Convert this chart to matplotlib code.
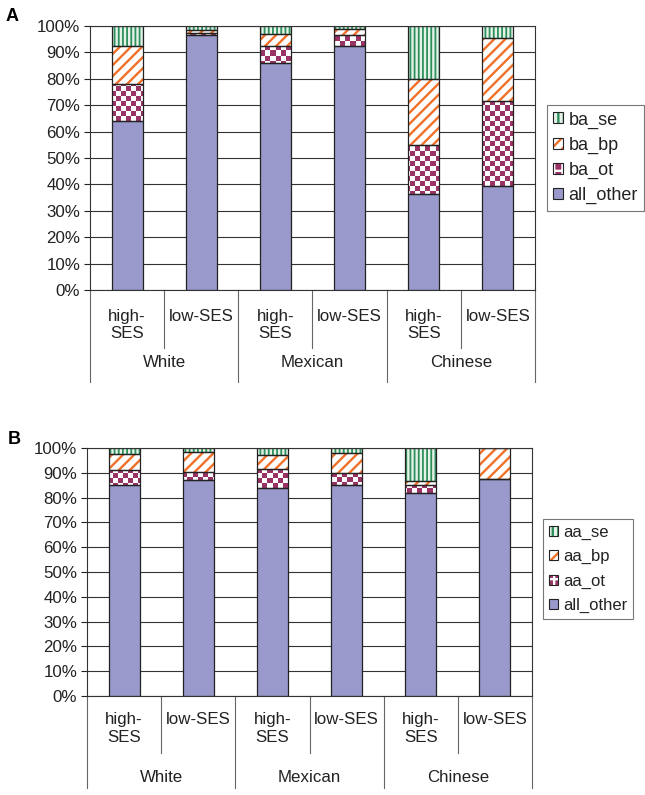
import numpy as np
import matplotlib
matplotlib.use('Agg')
import matplotlib.pyplot as plt
from matplotlib.colors import ListedColormap
from matplotlib.patches import Patch

plt.rcParams['font.family'] = 'Liberation Sans'
plt.rcParams['hatch.linewidth'] = 1.7

# ---------------------------------------------------------------------------
# Daten (Anteile in %)
groups = ['White', 'Mexican', 'Chinese']
ses = ['high-\nSES', 'low-SES', 'high-\nSES', 'low-SES', 'high-\nSES', 'low-SES']

a_other = [64, 96.5, 86, 92.5, 36.5, 39.5]
a_ot = [14, 1, 6.5, 4, 18.5, 32]
a_bp = [14.5, 1, 4.5, 2.5, 25, 24]
a_se = [7.5, 1.5, 3, 1, 20, 4.5]
a_labels = ['all_other', 'ba_ot', 'ba_bp', 'ba_se']

b_other = [85, 87, 84, 85, 82, 87.5]
b_ot = [6, 3.5, 7.5, 5, 3, 0]
b_bp = [6.5, 8, 5.5, 8, 1.5, 12.5]
b_se = [2.5, 1.5, 3, 2, 13.5, 0]
b_labels = ['all_other', 'aa_ot', 'aa_bp', 'aa_se']

yticks = np.arange(0, 101, 10)

# Farben
c_other = '#9999CC'
c_ot = '#993366'
c_bp = '#F07028'
c_se = '#2E8F5C'
c_se_bg = '#e4f2e8'
c_edge = '#222222'

W, H = 645, 795
fig = plt.figure(figsize=(W / 100, H / 100), dpi=100)


def panel(rect, series, labels, txt, leg_xy, leg_fs, leg_sp, lab_top, grp_y, short_y, long_y):
    ax = fig.add_axes(rect)
    x = np.arange(len(ses))
    bw = 0.42
    bottoms = np.concatenate([[np.zeros(len(x))], np.cumsum(series, axis=0)[:-1]])

    # Schachbrett-Muster fuer *_ot
    bb = ax.get_window_extent()
    nx = int(round(bb.width / 5.0))
    ny = int(round(bb.height / 5.0))
    checker = np.indices((ny, nx)).sum(0) % 2
    cmap = ListedColormap(['white', c_ot])

    handles = []
    for i, (vals, bot) in enumerate(zip(series, bottoms)):
        if i == 0:
            ax.bar(x, vals, bw, bottom=bot, color=c_other, lw=0, zorder=1)
            h = Patch(facecolor=c_other, lw=0)
        elif i == 1:
            bars = ax.bar(x, vals, bw, bottom=bot, color='white', lw=0, zorder=1)
            for b in bars:
                im = ax.imshow(checker, cmap=cmap, origin='lower', extent=(-0.5, 5.5, 0, 100),
                               interpolation='nearest', aspect='auto', zorder=1.5)
                im.set_clip_path(b)
            h = Patch(facecolor=c_ot, edgecolor='white', hatch='++', lw=0)
        elif i == 2:
            ax.bar(x, vals, bw, bottom=bot, color='white', edgecolor=c_bp, hatch='///', lw=0, zorder=1)
            h = Patch(facecolor='white', edgecolor=c_bp, hatch='///', lw=0)
        else:
            with plt.rc_context({'hatch.linewidth': 1.3}):
                ax.bar(x, vals, bw, bottom=bot, color=c_se_bg, edgecolor=c_se, hatch='||||', lw=0, zorder=1)
                h = Patch(facecolor=c_se_bg, edgecolor=c_se, hatch='|||', lw=0)
        # Umrandung
        ax.bar(x, vals, bw, bottom=bot, fill=False, edgecolor=c_edge, lw=0.9, zorder=2)
        handles.append((h, Patch(fill=False, edgecolor=c_edge, lw=0.8)))

    ax.set_xlim(-0.5, 5.5)
    ax.set_ylim(0, 100)
    ax.set_yticks(yticks)
    ax.set_yticklabels(['%d%%' % v for v in yticks], fontsize=12.2)
    ax.set_xticks([])
    ax.tick_params(axis='y', direction='out', length=4, width=0.8, pad=3, colors='#222222')
    ax.set_axisbelow(True)
    ax.yaxis.grid(True, color='#333333', lw=0.8)
    for s in ax.spines.values():
        s.set_color('#333333')
        s.set_linewidth(0.8)

    # Kategorie-Achse mit zwei Ebenen
    tr = ax.get_xaxis_transform()
    for i, lab in enumerate(ses):
        ax.text(x[i], lab_top, lab, transform=tr, ha='center', va='top', fontsize=12.2,
                linespacing=1.2, color='#222222')
    for g, name in enumerate(groups):
        ax.text(2 * g + 0.5, grp_y, name, transform=tr, ha='center', va='center', fontsize=12.2,
                color='#222222')
    for k in range(7):
        xs = k - 0.5
        y1 = long_y if k % 2 == 0 else short_y
        ax.plot([xs, xs], [0, y1], transform=tr, color='#666666', lw=0.8, clip_on=False)

    leg = ax.legend(handles[::-1], labels[::-1], loc='upper left', bbox_to_anchor=leg_xy,
                    bbox_transform=fig.transFigure, fontsize=leg_fs, frameon=True, fancybox=False,
                    framealpha=1, edgecolor='#777777', handlelength=0.55, handleheight=0.55,
                    handletextpad=0.3, labelspacing=leg_sp, borderpad=0.35, borderaxespad=0)
    leg.get_frame().set_linewidth(0.8)
    for t in leg.get_texts():
        t.set_color('#222222')
    fig.text(txt[0] / W, 1 - txt[1] / H, txt[2], fontsize=13, fontweight='bold', va='top')
    return ax


axA = panel([90 / W, 1 - 290 / H, 445 / W, 264 / H], [a_other, a_ot, a_bp, a_se], a_labels,
            (6, 8, 'A'), (547 / W, 1 - 105 / H), 13, 0.45, -0.072, -0.273, -0.22, -0.348)
axB = panel([87 / W, 1 - 696 / H, 445 / W, 248 / H], [b_other, b_ot, b_bp, b_se], b_labels,
            (8, 431, 'B'), (543 / W, 1 - 519 / H), 12, 0.56, -0.065, -0.327, -0.23, -0.371)

fig.savefig('out.png', dpi=100)
